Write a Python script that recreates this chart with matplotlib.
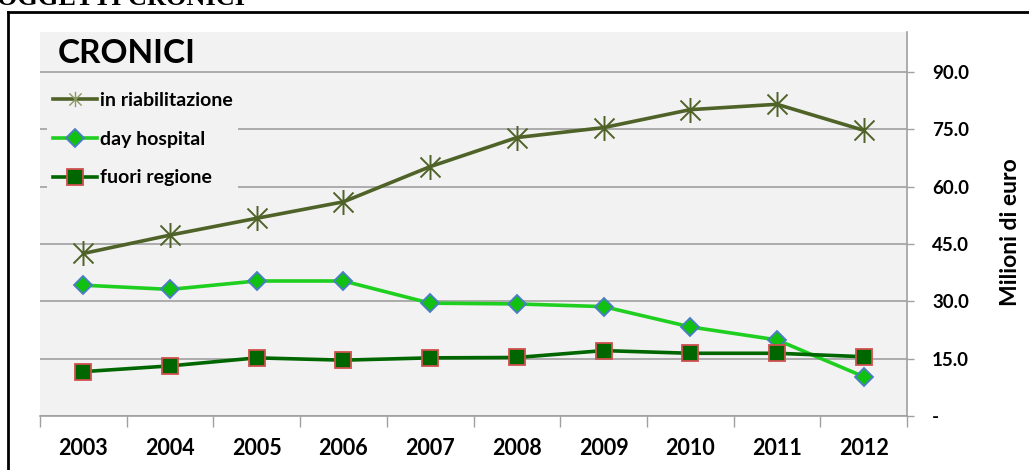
import matplotlib
matplotlib.use("Agg")
import matplotlib.pyplot as plt
from matplotlib.path import Path
from matplotlib.lines import Line2D
import numpy as np

years = ["2003", "2004", "2005", "2006", "2007", "2008", "2009", "2010", "2011", "2012"]
riabilitazione = [42.5, 47.3, 51.7, 56.0, 65.2, 72.8, 75.4, 80.1, 81.5, 74.7]
day_hospital = [34.2, 33.1, 35.3, 35.3, 29.5, 29.3, 28.6, 23.3, 19.9, 10.3]
fuori_regione = [11.6, 13.1, 15.2, 14.6, 15.2, 15.3, 17.1, 16.4, 16.4, 15.5]
yticks = [0, 15, 30, 45, 60, 75, 90]
ytick_labels = ["-", "15.0", "30.0", "45.0", "60.0", "75.0", "90.0"]

FONT = ["Lato", "DejaVu Sans"]
plt.rcParams['font.family'] = FONT

W, H = 1029, 470
fig = plt.figure(figsize=(W / 100, H / 100), dpi=100)
fig.patch.set_facecolor("white")

x0, x1, ytop, ybot = 40, 907, 32, 416
ax = fig.add_axes([x0 / W, 1 - ybot / H, (x1 - x0) / W, (ybot - ytop) / H])
ax.set_facecolor("#f2f2f2")

x = np.arange(len(years))

# star marker: X plus vertical line
star = Path([(-1, -1), (1, 1), (-1, 1), (1, -1), (0, -1.25), (0, 1.25)],
            [Path.MOVETO, Path.LINETO, Path.MOVETO, Path.LINETO, Path.MOVETO, Path.LINETO])

c_riab = "#4f6228"
c_dh = "#1fcf1f"
c_fr = "#006600"

l1, = ax.plot(x, riabilitazione, color=c_riab, lw=2.6, marker=star, ms=18,
              mec=c_riab, mew=1.4, zorder=5, label="in riabilitazione")
l2, = ax.plot(x, day_hospital, color=c_dh, lw=2.6, marker="D", ms=9,
              mfc="#11c011", mec="#4a7cc8", mew=1.3, zorder=4, label="day hospital")
l3, = ax.plot(x, fuori_regione, color=c_fr, lw=2.6, marker="s", ms=12,
              mfc=c_fr, mec="#d05050", mew=1.3, zorder=4, label="fuori regione")

ax.set_xlim(-0.5, len(years) - 0.5)
ax.set_ylim(0, 100.4)

ax.set_yticks(yticks)
ax.set_yticklabels(ytick_labels)
ax.yaxis.tick_right()
ax.yaxis.set_label_position("right")
ax.tick_params(axis="y", which="major", length=5, width=1, color="#a0a0a0",
               labelsize=13.5, pad=13, labelcolor="black")
for lab in ax.get_yticklabels():
    lab.set_fontweight("bold")
    lab.set_horizontalalignment("left")

ax.set_xticks(x)
ax.set_xticklabels(years, fontsize=15.5, fontweight="bold")
ax.set_xticks(np.arange(-0.5, len(years), 1), minor=True)
ax.tick_params(axis="x", which="major", length=0, pad=16)
ax.tick_params(axis="x", which="minor", length=8, width=1, color="#a0a0a0")

ax.grid(axis="y", color="#a0a0a0", lw=1.2, zorder=1)
ax.set_axisbelow(True)
for s in ["top", "left"]:
    ax.spines[s].set_visible(False)
for s in ["bottom", "right"]:
    ax.spines[s].set_color("#a0a0a0")
    ax.spines[s].set_linewidth(1.2)

ax.set_ylabel("Milioni di euro", fontsize=16.5, fontweight="bold", labelpad=22, rotation=90)
ax.yaxis.label.set_y((ybot - 232) / (ybot - ytop))

fs = 14
leg = ax.legend(handles=[l1, l2, l3], loc="upper left",
                bbox_to_anchor=((47 - x0) / (x1 - x0), (ybot - 86) / (ybot - ytop)),
                frameon=True, facecolor="#f2f2f2", edgecolor="none", framealpha=1,
                prop={"family": FONT, "weight": "bold", "size": fs},
                labelspacing=1.12, handlelength=2.27, handletextpad=0.15,
                borderpad=0.3, borderaxespad=0)
leg.get_frame().set_boxstyle("square", pad=0)
leg.set_zorder(6)
hs = leg.legend_handles
hs[0].set_markersize(11)
hs[0].set_markeredgewidth(1.0)
hs[0].set_markeredgecolor("#8a9a60")
hs[1].set_markersize(9)
hs[2].set_markersize(12)

ax.text(18 / (x1 - x0), (ybot - 63) / (ybot - ytop), "CRONICI", transform=ax.transAxes,
        fontsize=24, fontweight="bold", ha="left", va="baseline", color="black")

# outer frame and clipped heading
fig.add_artist(Line2D([8 / W, 8 / W], [0, 1 - 12 / H], transform=fig.transFigure,
                      color="black", lw=2))
fig.add_artist(Line2D([8 / W, 1.0], [1 - 12 / H, 1 - 12 / H], transform=fig.transFigure,
                      color="black", lw=2))
fig.text(-3 / W, 1 - 5 / H, "OGGETTI CRONICI", fontsize=19, fontweight="bold",
         family=["Liberation Serif", "DejaVu Serif"], ha="left", va="baseline")

fig.savefig("out.png", dpi=100)
